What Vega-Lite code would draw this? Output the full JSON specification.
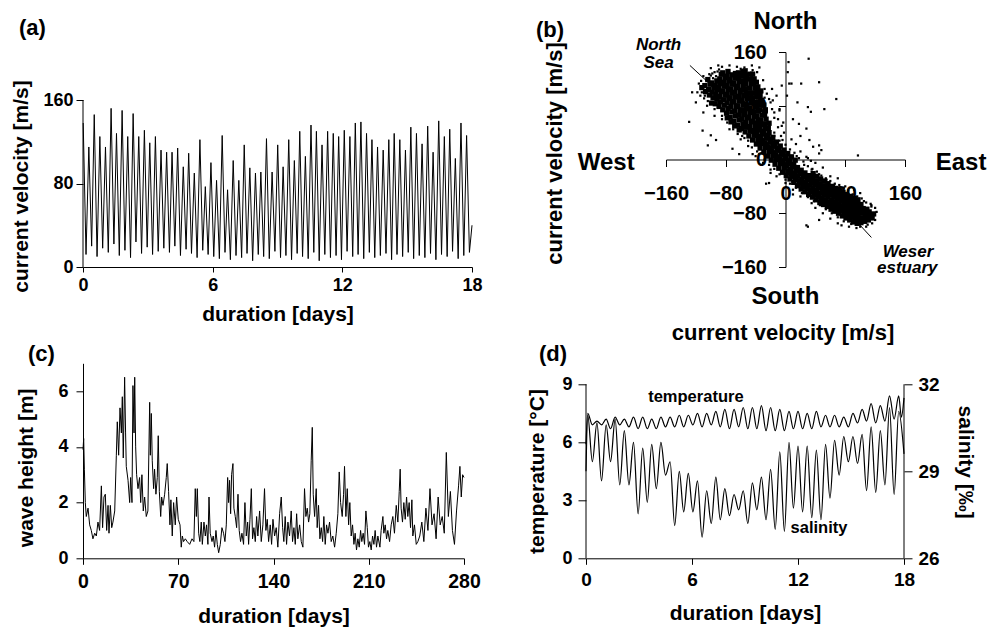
{
"$schema":"https://vega.github.io/schema/vega-lite/v6.json",
"padding":{"left":9,"top":10,"right":5,"bottom":5},
"config":{"view":{"stroke":null},"font":"Liberation Sans",
"axis":{"grid":false,"labelFont":"Liberation Sans","labelFontWeight":"bold","labelColor":"#000","titleFont":"Liberation Sans","titleFontWeight":"bold","titleColor":"#000","domainColor":"#000","tickColor":"#000","labelFlush":false,"labelOverlap":false,"titleAlign":"center","titleBaseline":"middle"},
"title":{"font":"Liberation Sans","fontWeight":"bold","fontSize":22,"color":"#000","anchor":"start","frame":"group","baseline":"alphabetic"},
"text":{"font":"Liberation Sans","fontWeight":"bold","color":"#000"}},
"spacing":311.3,"bounds":"flush",
"vconcat":[
{"hconcat":[
{"width":389,"height":215,"title":{"text":"(a)","dx":-64,"dy":3,"offset":15},
"layer":[
{"data":{"values":[{"t":0.01,"v":138},{"t":0.14,"v":12},{"t":0.27,"v":115},{"t":0.4,"v":20},{"t":0.52,"v":146},{"t":0.65,"v":10},{"t":0.78,"v":125},{"t":0.91,"v":18},{"t":1.04,"v":115},{"t":1.17,"v":14},{"t":1.3,"v":152},{"t":1.43,"v":22},{"t":1.55,"v":128},{"t":1.68,"v":11},{"t":1.81,"v":150},{"t":1.94,"v":16},{"t":2.07,"v":125},{"t":2.2,"v":9},{"t":2.32,"v":147},{"t":2.45,"v":24},{"t":2.58,"v":125},{"t":2.71,"v":13},{"t":2.84,"v":131},{"t":2.97,"v":19},{"t":3.09,"v":119},{"t":3.22,"v":12},{"t":3.35,"v":125},{"t":3.48,"v":15},{"t":3.61,"v":112},{"t":3.74,"v":18},{"t":3.87,"v":110},{"t":4.0,"v":14},{"t":4.12,"v":110},{"t":4.25,"v":20},{"t":4.38,"v":114},{"t":4.51,"v":11},{"t":4.64,"v":96},{"t":4.77,"v":17},{"t":4.89,"v":109},{"t":5.02,"v":13},{"t":5.15,"v":90},{"t":5.28,"v":9},{"t":5.41,"v":122},{"t":5.54,"v":16},{"t":5.66,"v":77},{"t":5.79,"v":12},{"t":5.92,"v":100},{"t":6.05,"v":10},{"t":6.18,"v":83},{"t":6.31,"v":8},{"t":6.44,"v":126},{"t":6.57,"v":14},{"t":6.69,"v":74},{"t":6.82,"v":7},{"t":6.95,"v":102},{"t":7.08,"v":11},{"t":7.21,"v":83},{"t":7.34,"v":9},{"t":7.46,"v":117},{"t":7.59,"v":13},{"t":7.72,"v":95},{"t":7.85,"v":6},{"t":7.98,"v":90},{"t":8.11,"v":12},{"t":8.23,"v":91},{"t":8.36,"v":10},{"t":8.49,"v":123},{"t":8.62,"v":8},{"t":8.75,"v":91},{"t":8.88,"v":15},{"t":9.01,"v":117},{"t":9.14,"v":9},{"t":9.26,"v":96},{"t":9.39,"v":11},{"t":9.52,"v":122},{"t":9.65,"v":7},{"t":9.78,"v":102},{"t":9.91,"v":13},{"t":10.03,"v":130},{"t":10.16,"v":10},{"t":10.29,"v":106},{"t":10.42,"v":8},{"t":10.55,"v":136},{"t":10.68,"v":14},{"t":10.8,"v":130},{"t":10.93,"v":6},{"t":11.06,"v":117},{"t":11.19,"v":12},{"t":11.32,"v":130},{"t":11.45,"v":9},{"t":11.58,"v":128},{"t":11.71,"v":11},{"t":11.83,"v":125},{"t":11.96,"v":7},{"t":12.09,"v":131},{"t":12.22,"v":15},{"t":12.35,"v":125},{"t":12.48,"v":10},{"t":12.6,"v":138},{"t":12.73,"v":12},{"t":12.86,"v":139},{"t":12.99,"v":8},{"t":13.12,"v":128},{"t":13.25,"v":14},{"t":13.37,"v":122},{"t":13.5,"v":9},{"t":13.63,"v":115},{"t":13.76,"v":11},{"t":13.89,"v":112},{"t":14.02,"v":13},{"t":14.15,"v":122},{"t":14.28,"v":7},{"t":14.4,"v":128},{"t":14.53,"v":12},{"t":14.66,"v":122},{"t":14.79,"v":10},{"t":14.92,"v":112},{"t":15.05,"v":14},{"t":15.17,"v":134},{"t":15.3,"v":8},{"t":15.43,"v":128},{"t":15.56,"v":11},{"t":15.69,"v":118},{"t":15.82,"v":9},{"t":15.95,"v":135},{"t":16.08,"v":13},{"t":16.2,"v":110},{"t":16.33,"v":7},{"t":16.46,"v":140},{"t":16.59,"v":12},{"t":16.72,"v":125},{"t":16.85,"v":10},{"t":16.97,"v":132},{"t":17.1,"v":15},{"t":17.23,"v":104},{"t":17.36,"v":8},{"t":17.49,"v":138},{"t":17.62,"v":11},{"t":17.75,"v":126},{"t":17.88,"v":14},{"t":18.0,"v":40}]},
"mark":{"type":"line","color":"#000","strokeWidth":1},
"encoding":{
"x":{"field":"t","type":"quantitative","scale":{"domain":[0,18],"nice":false},"axis":{"values":[0,6,12,18],"tickSize":5,"labelPadding":4,"labelFontSize":18,"title":"duration [days]","titleFontSize":21,"titleX":194.5,"titleY":47}},
"y":{"field":"v","type":"quantitative","scale":{"domain":[0,206],"nice":false},"axis":{"values":[0,80,160],"domain":false,"tickSize":7,"labelPadding":3,"labelFontSize":18,"title":"current velocity [m/s]","titleFontSize":21,"titleX":-62,"titleY":134}}}},
{"data":{"values":[{}]},"mark":{"type":"rule","color":"#000","strokeWidth":1},
"encoding":{"x":{"datum":0,"type":"quantitative","scale":{"domain":[0,18],"nice":false}},"y":{"datum":0,"type":"quantitative","scale":{"domain":[0,206],"nice":false}},"y2":{"datum":160}}}
]},
{"width":239,"height":215,"title":{"text":"(b)","dx":-130,"dy":47,"offset":15},
"layer":[
{"data":{"values":[
{"e":-112,"n":107},{"e":-107,"n":101},{"e":-108,"n":110},{"e":-102,"n":96},{"e":-103,"n":104},{"e":-101,"n":112},{"e":-104,"n":119},{"e":-99,"n":84},{"e":-97,"n":92},{"e":-98,"n":100},{"e":-96,"n":107},{"e":-99,"n":114},{"e":-94,"n":83},{"e":-92,"n":90},{"e":-93,"n":97},{"e":-91,"n":104},{"e":-94,"n":110},{"e":-92,"n":117},{"e":-89,"n":79},{"e":-87,"n":86},{"e":-88,"n":94},{"e":-86,"n":101},{"e":-89,"n":107},{"e":-87,"n":113},{"e":-88,"n":120},{"e":-86,"n":127},{"e":-84,"n":74},{"e":-82,"n":81},{"e":-83,"n":89},{"e":-81,"n":96},{"e":-84,"n":102},{"e":-82,"n":109},{"e":-83,"n":115},{"e":-81,"n":122},{"e":-84,"n":129},{"e":-79,"n":69},{"e":-77,"n":76},{"e":-78,"n":84},{"e":-76,"n":91},{"e":-79,"n":97},{"e":-77,"n":104},{"e":-78,"n":110},{"e":-76,"n":117},{"e":-79,"n":124},{"e":-77,"n":131},{"e":-78,"n":62},{"e":-74,"n":63},{"e":-72,"n":71},{"e":-73,"n":79},{"e":-71,"n":86},{"e":-74,"n":92},{"e":-72,"n":99},{"e":-73,"n":105},{"e":-71,"n":112},{"e":-74,"n":119},{"e":-72,"n":126},{"e":-73,"n":56},{"e":-69,"n":57},{"e":-67,"n":65},{"e":-68,"n":72},{"e":-66,"n":79},{"e":-69,"n":86},{"e":-67,"n":93},{"e":-68,"n":100},{"e":-66,"n":107},{"e":-69,"n":114},{"e":-67,"n":121},{"e":-68,"n":50},{"e":-67,"n":128},{"e":-64,"n":51},{"e":-62,"n":59},{"e":-63,"n":66},{"e":-61,"n":73},{"e":-64,"n":80},{"e":-62,"n":87},{"e":-63,"n":94},{"e":-61,"n":101},{"e":-64,"n":109},{"e":-62,"n":116},{"e":-63,"n":122},{"e":-63,"n":129},{"e":-62,"n":44},{"e":-59,"n":46},{"e":-57,"n":53},{"e":-58,"n":60},{"e":-56,"n":67},{"e":-59,"n":74},{"e":-57,"n":81},{"e":-58,"n":88},{"e":-56,"n":95},{"e":-59,"n":103},{"e":-57,"n":110},{"e":-58,"n":117},{"e":-58,"n":124},{"e":-57,"n":131},{"e":-54,"n":41},{"e":-52,"n":48},{"e":-53,"n":55},{"e":-51,"n":62},{"e":-54,"n":69},{"e":-52,"n":76},{"e":-53,"n":83},{"e":-51,"n":91},{"e":-52,"n":98},{"e":-54,"n":105},{"e":-53,"n":112},{"e":-53,"n":119},{"e":-52,"n":126},{"e":-54,"n":132},{"e":-49,"n":35},{"e":-47,"n":42},{"e":-48,"n":49},{"e":-46,"n":56},{"e":-49,"n":63},{"e":-47,"n":70},{"e":-48,"n":77},{"e":-46,"n":85},{"e":-47,"n":92},{"e":-49,"n":99},{"e":-48,"n":106},{"e":-46,"n":113},{"e":-48,"n":120},{"e":-47,"n":127},{"e":-44,"n":29},{"e":-42,"n":36},{"e":-43,"n":43},{"e":-41,"n":50},{"e":-44,"n":57},{"e":-42,"n":64},{"e":-43,"n":71},{"e":-41,"n":78},{"e":-42,"n":85},{"e":-44,"n":92},{"e":-43,"n":99},{"e":-41,"n":106},{"e":-43,"n":113},{"e":-42,"n":120},{"e":-44,"n":127},{"e":-39,"n":23},{"e":-37,"n":30},{"e":-38,"n":37},{"e":-36,"n":44},{"e":-39,"n":51},{"e":-37,"n":58},{"e":-38,"n":65},{"e":-36,"n":72},{"e":-39,"n":79},{"e":-37,"n":86},{"e":-38,"n":94},{"e":-38,"n":101},{"e":-37,"n":108},{"e":-39,"n":115},{"e":-34,"n":17},{"e":-32,"n":24},{"e":-33,"n":31},{"e":-31,"n":38},{"e":-34,"n":45},{"e":-32,"n":52},{"e":-33,"n":59},{"e":-31,"n":66},{"e":-34,"n":74},{"e":-33,"n":81},{"e":-32,"n":88},{"e":-34,"n":95},{"e":-33,"n":102},{"e":-29,"n":11},{"e":-27,"n":18},{"e":-28,"n":25},{"e":-26,"n":32},{"e":-29,"n":39},{"e":-27,"n":46},{"e":-28,"n":53},{"e":-26,"n":60},{"e":-28,"n":67},{"e":-27,"n":74},{"e":-29,"n":81},{"e":-24,"n":5},{"e":-22,"n":12},{"e":-23,"n":19},{"e":-21,"n":26},{"e":-24,"n":33},{"e":-22,"n":40},{"e":-23,"n":47},{"e":-22,"n":54},{"e":-19,"n":-1},{"e":-17,"n":6},{"e":-18,"n":13},{"e":-16,"n":20},{"e":-19,"n":27},{"e":-17,"n":33},{"e":-14,"n":-7},{"e":-12,"n":0},{"e":-13,"n":7},{"e":-11,"n":14},{"e":-14,"n":20},{"e":-12,"n":26},{"e":-9,"n":-13},{"e":-7,"n":-6},{"e":-8,"n":1},{"e":-6,"n":8},{"e":-9,"n":14},{"e":-7,"n":20},{"e":-4,"n":-19},{"e":-2,"n":-12},{"e":-3,"n":-5},{"e":-1,"n":2},{"e":-4,"n":8},{"e":-2,"n":14},{"e":1,"n":-24},{"e":3,"n":-17},{"e":2,"n":-10},{"e":4,"n":-3},{"e":1,"n":3},{"e":3,"n":9},{"e":6,"n":-29},{"e":8,"n":-22},{"e":7,"n":-15},{"e":9,"n":-8},{"e":6,"n":-2},{"e":8,"n":4},{"e":11,"n":-34},{"e":13,"n":-27},{"e":12,"n":-20},{"e":14,"n":-13},{"e":11,"n":-7},{"e":13,"n":-1},{"e":16,"n":-39},{"e":18,"n":-32},{"e":17,"n":-25},{"e":19,"n":-18},{"e":16,"n":-12},{"e":21,"n":-44},{"e":23,"n":-37},{"e":22,"n":-30},{"e":24,"n":-23},{"e":21,"n":-16},{"e":26,"n":-48},{"e":28,"n":-41},{"e":27,"n":-34},{"e":29,"n":-27},{"e":26,"n":-20},{"e":31,"n":-52},{"e":33,"n":-45},{"e":32,"n":-38},{"e":34,"n":-31},{"e":31,"n":-24},{"e":36,"n":-56},{"e":38,"n":-49},{"e":37,"n":-42},{"e":39,"n":-35},{"e":36,"n":-28},{"e":37,"n":-21},{"e":41,"n":-60},{"e":43,"n":-53},{"e":42,"n":-46},{"e":44,"n":-39},{"e":41,"n":-32},{"e":42,"n":-25},{"e":46,"n":-64},{"e":48,"n":-57},{"e":47,"n":-50},{"e":49,"n":-43},{"e":46,"n":-36},{"e":47,"n":-29},{"e":51,"n":-67},{"e":53,"n":-60},{"e":52,"n":-53},{"e":54,"n":-46},{"e":51,"n":-39},{"e":52,"n":-32},{"e":56,"n":-70},{"e":58,"n":-63},{"e":57,"n":-56},{"e":59,"n":-49},{"e":56,"n":-42},{"e":57,"n":-36},{"e":61,"n":-74},{"e":63,"n":-67},{"e":62,"n":-60},{"e":64,"n":-53},{"e":61,"n":-46},{"e":62,"n":-40},{"e":66,"n":-77},{"e":68,"n":-70},{"e":67,"n":-63},{"e":69,"n":-56},{"e":66,"n":-49},{"e":67,"n":-43},{"e":71,"n":-80},{"e":73,"n":-73},{"e":72,"n":-66},{"e":74,"n":-59},{"e":71,"n":-52},{"e":72,"n":-45},{"e":76,"n":-84},{"e":78,"n":-77},{"e":77,"n":-70},{"e":79,"n":-63},{"e":76,"n":-56},{"e":77,"n":-49},{"e":81,"n":-87},{"e":83,"n":-80},{"e":82,"n":-73},{"e":84,"n":-66},{"e":81,"n":-59},{"e":82,"n":-52},{"e":86,"n":-90},{"e":88,"n":-83},{"e":87,"n":-76},{"e":89,"n":-69},{"e":86,"n":-62},{"e":87,"n":-55},{"e":91,"n":-93},{"e":93,"n":-86},{"e":92,"n":-79},{"e":94,"n":-72},{"e":91,"n":-65},{"e":92,"n":-58},{"e":96,"n":-95},{"e":98,"n":-88},{"e":97,"n":-81},{"e":99,"n":-74},{"e":96,"n":-67},{"e":97,"n":-60},{"e":101,"n":-94},{"e":103,"n":-87},{"e":102,"n":-80},{"e":104,"n":-73},{"e":101,"n":-67},{"e":106,"n":-92},{"e":108,"n":-86},{"e":107,"n":-80},{"e":109,"n":-74},{"e":111,"n":-90},{"e":113,"n":-84},{"e":112,"n":-78},{"e":116,"n":-87},{"e":118,"n":-81},
{"e":4,"n":-20},{"e":5,"n":-6},{"e":9,"n":-25},{"e":10,"n":-11},{"e":14,"n":-30},{"e":15,"n":-16},{"e":19,"n":-35},{"e":20,"n":-21},{"e":24,"n":-40},{"e":25,"n":-26},{"e":29,"n":-44},{"e":30,"n":-30},{"e":34,"n":-48},{"e":35,"n":-34},{"e":39,"n":-52},{"e":40,"n":-38},{"e":44,"n":-56},{"e":45,"n":-42},{"e":49,"n":-60},{"e":50,"n":-46},{"e":54,"n":-63},{"e":55,"n":-49},{"e":59,"n":-66},{"e":60,"n":-52},{"e":64,"n":-70},{"e":65,"n":-56},{"e":69,"n":-73},{"e":70,"n":-59},{"e":74,"n":-76},{"e":75,"n":-62},{"e":79,"n":-80},{"e":80,"n":-66},{"e":84,"n":-83},{"e":85,"n":-69},{"e":89,"n":-86},{"e":90,"n":-72},{"e":94,"n":-89},{"e":95,"n":-75},{"e":99,"n":-91},{"e":100,"n":-77},{"e":104,"n":-90},{"e":105,"n":-76},{"e":109,"n":-88},{"e":110,"n":-81},
{"e":-26,"n":22},{"e":-25,"n":36},{"e":-21,"n":16},{"e":-20,"n":30},{"e":-16,"n":10},{"e":-15,"n":24},{"e":-11,"n":4},{"e":-10,"n":17},{"e":-6,"n":-2},{"e":-5,"n":11},{"e":-1,"n":-8},{"e":0,"n":5},{"e":-31,"n":28},{"e":-30,"n":42},{"e":-36,"n":34},{"e":-35,"n":48},{"e":-41,"n":40},{"e":-40,"n":54}
]},
"mark":{"type":"square","size":28,"color":"#000","opacity":1},
"encoding":{
"x":{"field":"e","type":"quantitative","scale":{"domain":[-160,160],"nice":false},"axis":{"values":[-160,-80,0,80,160],"offset":-107.5,"tickSize":7,"labelPadding":17,"labelFontSize":20,"title":"current velocity [m/s]","titleFontSize":22,"titleX":116.5,"titleY":172.8}},
"y":{"field":"n","type":"quantitative","scale":{"domain":[-160,160],"nice":false},"axis":{"values":[-160,-80,0,80,160],"offset":-119.5,"tickSize":7,"labelPadding":12,"labelFontSize":20,"title":"current velocity [m/s]","titleFontSize":22,"titleX":-231,"titleY":101}}}},
{"data":{"values":[
{"e":-118,"n":100},{"e":-116,"n":113},{"e":-114,"n":95},{"e":-113,"n":117},{"e":-109,"n":91},{"e":-106,"n":118},{"e":-110,"n":124},{"e":-104,"n":87},{"e":-102,"n":127},{"e":-97,"n":121},{"e":-98,"n":128},{"e":-93,"n":124},{"e":-91,"n":131},{"e":-89,"n":134},
{"e":-105,"n":80},{"e":-108,"n":95},{"e":-112,"n":100},{"e":-100,"n":125},{"e":-95,"n":130},{"e":-85,"n":138},{"e":-75,"n":140},{"e":-65,"n":138},{"e":-55,"n":137},{"e":-45,"n":140},{"e":-38,"n":130},{"e":-30,"n":118},{"e":-28,"n":105},{"e":-25,"n":98},{"e":-22,"n":90},{"e":-18,"n":75},{"e":-15,"n":70},{"e":-10,"n":60},{"e":-5,"n":50},{"e":-95,"n":75},{"e":-85,"n":65},{"e":-78,"n":55},{"e":-70,"n":45},{"e":-64,"n":38},{"e":-58,"n":35},
{"e":-15,"n":35},{"e":-8,"n":28},{"e":0,"n":22},{"e":6,"n":15},{"e":12,"n":10},{"e":18,"n":2},{"e":24,"n":-3},{"e":30,"n":-10},{"e":36,"n":-14},{"e":42,"n":-18},{"e":48,"n":-24},{"e":54,"n":-28},{"e":60,"n":-32},{"e":66,"n":-36},{"e":72,"n":-38},{"e":78,"n":-42},{"e":84,"n":-46},{"e":90,"n":-52},{"e":96,"n":-55},{"e":102,"n":-58},{"e":108,"n":-64},{"e":114,"n":-66},{"e":120,"n":-72},{"e":-2,"n":40},{"e":8,"n":30},{"e":20,"n":12},{"e":34,"n":-2},{"e":50,"n":-12},{"e":70,"n":-28},{"e":92,"n":-45},
{"e":-55,"n":32},{"e":-45,"n":18},{"e":-35,"n":8},{"e":-28,"n":0},{"e":-22,"n":-8},{"e":-15,"n":-14},{"e":-8,"n":-22},{"e":0,"n":-30},{"e":6,"n":-36},{"e":14,"n":-42},{"e":22,"n":-50},{"e":30,"n":-56},{"e":38,"n":-62},{"e":46,"n":-68},{"e":54,"n":-74},{"e":62,"n":-80},{"e":70,"n":-86},{"e":78,"n":-92},{"e":88,"n":-96},{"e":100,"n":-100},{"e":108,"n":-100},{"e":116,"n":-95},{"e":-50,"n":28},{"e":-38,"n":12},{"e":-20,"n":-20},{"e":10,"n":-52},{"e":40,"n":-72},{"e":75,"n":-98},
{"e":-25,"n":70},{"e":-20,"n":85},{"e":-15,"n":62},{"e":-12,"n":95},{"e":-8,"n":75},{"e":-5,"n":110},{"e":-18,"n":105},{"e":-28,"n":92},{"e":-10,"n":48},{"e":-3,"n":55},{"e":-22,"n":50},{"e":-30,"n":80},{"e":-15,"n":40},{"e":-6,"n":35},
{"e":-60,"n":30},{"e":-75,"n":45},{"e":-85,"n":60},{"e":-50,"n":20},{"e":-40,"n":5},{"e":-110,"n":70},{"e":-95,"n":65},{"e":-120,"n":85},{"e":-125,"n":100},{"e":-30,"n":-5},{"e":-20,"n":-15},{"e":-12,"n":-25},{"e":0,"n":-35},{"e":10,"n":-45},{"e":20,"n":-55},{"e":35,"n":-65},{"e":50,"n":-80},{"e":60,"n":-88},{"e":70,"n":-95},{"e":85,"n":-100},{"e":95,"n":-102},{"e":110,"n":-97},{"e":120,"n":-90},{"e":122,"n":-78},{"e":115,"n":-70},
{"e":15,"n":5},{"e":25,"n":-8},{"e":35,"n":-15},{"e":45,"n":-22},{"e":55,"n":-30},{"e":65,"n":-38},{"e":75,"n":-45},{"e":85,"n":-52},{"e":95,"n":-58},{"e":105,"n":-62},{"e":115,"n":-68},{"e":30,"n":2},{"e":40,"n":-5},{"e":60,"n":-25},{"e":80,"n":-40},{"e":100,"n":-50},
{"e":4,"n":145},{"e":31,"n":150},{"e":8,"n":113},{"e":21,"n":113},{"e":45,"n":115},{"e":16,"n":85},{"e":30,"n":78},{"e":34,"n":71},{"e":52,"n":75},{"e":18,"n":53},{"e":28,"n":46},{"e":32,"n":29},{"e":45,"n":21},{"e":48,"n":14},{"e":68,"n":90},{"e":30,"n":-100},{"e":45,"n":-90},{"e":97,"n":6},{"e":5,"n":113},{"e":28,"n":-98},{"e":-26,"n":-36},{"e":-22,"n":-35},{"e":-129,"n":56},{"e":-104,"n":21},{"e":-100,"n":36},{"e":-93,"n":29},{"e":-111,"n":43},{"e":-71,"n":16},{"e":-62,"n":8},{"e":-44,"n":8},{"e":37,"n":19},{"e":45,"n":9},{"e":14,"n":23},{"e":28,"n":4},{"e":-17,"n":88},{"e":-8,"n":73},{"e":-4,"n":29},{"e":-44,"n":133},{"e":-35,"n":137},{"e":-60,"n":135},{"e":-90,"n":140},{"e":-100,"n":136},{"e":3,"n":130},{"e":2,"n":95},{"e":10,"n":60},{"e":20,"n":35}
]},
"mark":{"type":"square","size":5,"color":"#000","opacity":1},
"encoding":{"x":{"field":"e","type":"quantitative","scale":{"domain":[-160,160],"nice":false}},"y":{"field":"n","type":"quantitative","scale":{"domain":[-160,160],"nice":false}}}},
{"data":{"values":[{"x1":-128,"y1":140,"x2":-93,"y2":104},{"x1":90,"y1":-86,"x2":115,"y2":-116}]},
"mark":{"type":"rule","color":"#000","strokeWidth":1},
"encoding":{"x":{"field":"x1","type":"quantitative","scale":{"domain":[-160,160],"nice":false}},"y":{"field":"y1","type":"quantitative","scale":{"domain":[-160,160],"nice":false}},"x2":{"field":"x2"},"y2":{"field":"y2"}}},
{"data":{"values":[{"label":"North","x":0,"y":204},{"label":"South","x":0,"y":-204},{"label":"West","x":-240,"y":-5},{"label":"East","x":235,"y":-5}]},
"mark":{"type":"text","fontSize":24,"baseline":"middle","align":"center"},
"encoding":{"x":{"field":"x","type":"quantitative","scale":{"domain":[-160,160],"nice":false}},"y":{"field":"y","type":"quantitative","scale":{"domain":[-160,160],"nice":false}},"text":{"field":"label"}}},
{"data":{"values":[{"label":"North","x":-170,"y":170},{"label":"Sea","x":-170,"y":143},{"label":"Weser","x":164,"y":-138},{"label":"estuary","x":163,"y":-162}]},
"mark":{"type":"text","fontSize":17,"fontStyle":"italic","baseline":"middle","align":"center"},
"encoding":{"x":{"field":"x","type":"quantitative","scale":{"domain":[-160,160],"nice":false}},"y":{"field":"y","type":"quantitative","scale":{"domain":[-160,160],"nice":false}},"text":{"field":"label"}}}
]}
],"spacing":194,"bounds":"flush"},
{"hconcat":[
{"width":381,"height":195,"title":{"text":"(c)","dx":-55,"dy":5,"offset":2},
"data":{"values":[{"d":0,"h":3.9},{"d":0.5,"h":4.3},{"d":1.0,"h":3.2},{"d":1.7,"h":2.0},{"d":2.4,"h":1.5},{"d":3.7,"h":1.8},{"d":4.9,"h":1.2},{"d":6.1,"h":1.0},{"d":7.3,"h":0.7},{"d":8.6,"h":0.9},{"d":9.8,"h":0.8},{"d":11.0,"h":1.3},{"d":12.2,"h":1.0},{"d":13.5,"h":2.6},{"d":14.4,"h":1.1},{"d":15.4,"h":2.2},{"d":16.4,"h":2.3},{"d":17.4,"h":1.0},{"d":18.4,"h":1.9},{"d":19.1,"h":0.9},{"d":20.1,"h":1.9},{"d":21.1,"h":1.1},{"d":22.0,"h":1.3},{"d":23.3,"h":1.7},{"d":24.5,"h":3.7},{"d":25.2,"h":4.9},{"d":26.2,"h":3.7},{"d":27.2,"h":5.4},{"d":28.2,"h":4.5},{"d":28.9,"h":5.8},{"d":29.6,"h":3.6},{"d":30.6,"h":6.5},{"d":31.3,"h":4.5},{"d":31.8,"h":3.3},{"d":33.1,"h":2.8},{"d":34.3,"h":2.0},{"d":35.0,"h":2.9},{"d":36.0,"h":2.0},{"d":36.7,"h":6.2},{"d":37.5,"h":4.5},{"d":38.0,"h":6.5},{"d":38.7,"h":4.0},{"d":39.4,"h":3.0},{"d":40.4,"h":2.5},{"d":41.6,"h":2.9},{"d":42.4,"h":2.0},{"d":43.3,"h":3.0},{"d":44.3,"h":1.7},{"d":45.3,"h":2.2},{"d":46.5,"h":1.5},{"d":47.7,"h":1.7},{"d":49.0,"h":5.6},{"d":49.5,"h":3.7},{"d":50.2,"h":5.2},{"d":50.9,"h":3.5},{"d":51.9,"h":2.5},{"d":52.6,"h":3.2},{"d":53.6,"h":2.3},{"d":54.6,"h":2.9},{"d":55.3,"h":4.4},{"d":56.1,"h":2.4},{"d":57.1,"h":1.5},{"d":57.8,"h":2.2},{"d":58.8,"h":1.9},{"d":60.0,"h":2.3},{"d":61.2,"h":2.9},{"d":61.9,"h":3.4},{"d":62.9,"h":2.4},{"d":63.9,"h":1.2},{"d":64.6,"h":2.1},{"d":65.6,"h":0.8},{"d":66.6,"h":2.0},{"d":67.8,"h":1.2},{"d":68.8,"h":2.2},{"d":70.0,"h":1.4},{"d":71.3,"h":1.2},{"d":72.2,"h":0.4},{"d":73.0,"h":0.8},{"d":73.9,"h":0.6},{"d":75.2,"h":0.7},{"d":76.6,"h":0.6},{"d":78.4,"h":0.5},{"d":80.1,"h":0.7},{"d":81.5,"h":0.6},{"d":82.5,"h":2.5},{"d":83.3,"h":1.5},{"d":84.0,"h":2.5},{"d":85.0,"h":0.9},{"d":85.9,"h":0.6},{"d":86.9,"h":1.3},{"d":87.7,"h":0.5},{"d":88.9,"h":1.3},{"d":89.9,"h":0.8},{"d":90.8,"h":1.2},{"d":91.8,"h":0.5},{"d":92.6,"h":2.2},{"d":93.5,"h":0.9},{"d":94.8,"h":0.6},{"d":95.7,"h":0.8},{"d":96.7,"h":0.4},{"d":97.7,"h":1.0},{"d":98.7,"h":0.5},{"d":99.7,"h":0.2},{"d":100.9,"h":0.5},{"d":102.1,"h":1.1},{"d":103.3,"h":0.9},{"d":104.3,"h":0.6},{"d":105.3,"h":1.2},{"d":106.3,"h":2.9},{"d":107.0,"h":2.0},{"d":107.7,"h":2.8},{"d":108.5,"h":1.6},{"d":109.2,"h":3.0},{"d":110.2,"h":3.4},{"d":110.9,"h":1.8},{"d":111.9,"h":1.5},{"d":112.9,"h":1.1},{"d":113.9,"h":2.3},{"d":114.8,"h":1.0},{"d":115.8,"h":0.6},{"d":116.8,"h":0.9},{"d":118.0,"h":0.5},{"d":119.0,"h":2.0},{"d":120.0,"h":0.8},{"d":121.0,"h":1.3},{"d":121.7,"h":0.5},{"d":122.7,"h":1.4},{"d":123.7,"h":2.5},{"d":124.6,"h":0.7},{"d":125.6,"h":1.1},{"d":126.6,"h":0.6},{"d":127.6,"h":1.5},{"d":128.5,"h":0.8},{"d":129.8,"h":1.7},{"d":131.0,"h":0.6},{"d":132.2,"h":1.2},{"d":133.4,"h":2.5},{"d":134.4,"h":1.0},{"d":135.4,"h":1.4},{"d":136.4,"h":0.6},{"d":137.6,"h":1.2},{"d":138.6,"h":0.5},{"d":139.6,"h":1.4},{"d":140.8,"h":0.8},{"d":142.0,"h":1.1},{"d":143.2,"h":0.4},{"d":144.5,"h":1.6},{"d":145.7,"h":2.2},{"d":146.7,"h":1.1},{"d":147.6,"h":0.6},{"d":148.6,"h":1.5},{"d":149.6,"h":0.5},{"d":150.6,"h":1.3},{"d":151.8,"h":0.8},{"d":153.0,"h":1.7},{"d":154.0,"h":0.6},{"d":155.0,"h":1.1},{"d":156.0,"h":0.5},{"d":157.0,"h":1.6},{"d":157.9,"h":0.7},{"d":159.2,"h":1.2},{"d":160.4,"h":0.6},{"d":161.6,"h":0.4},{"d":162.8,"h":2.5},{"d":163.8,"h":1.5},{"d":164.8,"h":1.8},{"d":165.8,"h":1.3},{"d":166.7,"h":1.6},{"d":167.7,"h":3.5},{"d":168.5,"h":4.7},{"d":169.2,"h":2.3},{"d":170.2,"h":1.5},{"d":171.4,"h":2.5},{"d":172.1,"h":1.1},{"d":173.1,"h":1.9},{"d":174.1,"h":0.7},{"d":175.1,"h":1.1},{"d":176.1,"h":0.6},{"d":177.0,"h":1.5},{"d":178.0,"h":0.5},{"d":179.0,"h":1.2},{"d":180.0,"h":0.9},{"d":181.2,"h":1.3},{"d":182.4,"h":0.6},{"d":183.6,"h":0.8},{"d":184.9,"h":0.4},{"d":186.1,"h":0.9},{"d":187.3,"h":1.6},{"d":188.3,"h":3.1},{"d":189.3,"h":2.0},{"d":190.5,"h":1.5},{"d":191.5,"h":2.3},{"d":192.2,"h":3.3},{"d":193.2,"h":1.5},{"d":194.2,"h":2.5},{"d":195.2,"h":1.2},{"d":196.1,"h":2.0},{"d":197.1,"h":0.8},{"d":198.1,"h":1.2},{"d":199.1,"h":0.5},{"d":200.0,"h":0.9},{"d":201.0,"h":0.3},{"d":202.0,"h":0.7},{"d":203.0,"h":0.4},{"d":204.0,"h":1.0},{"d":204.9,"h":0.6},{"d":205.9,"h":0.9},{"d":206.9,"h":0.5},{"d":207.9,"h":1.7},{"d":208.9,"h":1.1},{"d":209.8,"h":0.4},{"d":210.8,"h":0.6},{"d":211.8,"h":0.3},{"d":212.8,"h":0.8},{"d":213.8,"h":0.5},{"d":214.7,"h":1.0},{"d":215.7,"h":0.4},{"d":216.7,"h":0.8},{"d":218.2,"h":0.4},{"d":219.1,"h":1.0},{"d":220.4,"h":1.5},{"d":221.1,"h":0.9},{"d":222.1,"h":1.2},{"d":223.1,"h":0.7},{"d":224.0,"h":1.0},{"d":225.3,"h":0.6},{"d":226.5,"h":1.2},{"d":227.7,"h":1.5},{"d":228.9,"h":0.9},{"d":230.2,"h":1.9},{"d":231.4,"h":1.3},{"d":232.4,"h":2.4},{"d":233.1,"h":3.2},{"d":233.8,"h":1.8},{"d":234.8,"h":1.3},{"d":235.8,"h":2.0},{"d":236.8,"h":1.4},{"d":237.8,"h":2.2},{"d":238.7,"h":1.5},{"d":239.7,"h":2.0},{"d":240.7,"h":1.1},{"d":241.7,"h":2.1},{"d":242.4,"h":0.8},{"d":243.6,"h":1.2},{"d":244.9,"h":0.5},{"d":246.1,"h":0.6},{"d":247.5,"h":0.8},{"d":249,"h":1.3},{"d":250.5,"h":0.6},{"d":252,"h":1.8},{"d":253.5,"h":1.0},{"d":255,"h":2.5},{"d":256.5,"h":1.2},{"d":258,"h":1.6},{"d":259.5,"h":0.7},{"d":261,"h":2.2},{"d":262.5,"h":1.2},{"d":264,"h":1.5},{"d":265.5,"h":0.9},{"d":267,"h":3.8},{"d":268.5,"h":1.5},{"d":270,"h":2.4},{"d":271.5,"h":1.0},{"d":273,"h":0.5},{"d":274.5,"h":1.7},{"d":276,"h":2.6},{"d":277,"h":3.3},{"d":278,"h":2.2},{"d":279,"h":3.0},{"d":280,"h":2.9}]},
"mark":{"type":"line","color":"#000","strokeWidth":1},
"encoding":{
"x":{"field":"d","type":"quantitative","scale":{"domain":[0,280],"nice":false},"axis":{"values":[0,70,140,210,280],"tickSize":6,"labelPadding":8,"labelFontSize":19.5,"title":"duration [days]","titleFontSize":21,"titleX":190.5,"titleY":58.4}},
"y":{"field":"h","type":"quantitative","scale":{"domain":[0,7],"nice":false},"axis":{"values":[0,2,4,6],"tickSize":7,"labelPadding":8,"labelFontSize":18,"title":"wave height [m]","titleFontSize":21,"titleX":-57,"titleY":104}}}},
{"width":318,"height":195,"title":{"text":"(d)","dx":-47,"dy":5,"offset":2},
"resolve":{"scale":{"y":"independent"}},
"layer":[
{"layer":[
{"data":{"values":[{"t":0,"temp":5.9},{"t":0.1,"temp":7.5},{"t":0.36,"temp":6.9},{"t":0.62,"temp":7.1},{"t":0.88,"temp":6.9},{"t":1.14,"temp":7.2},{"t":1.39,"temp":6.7},{"t":1.65,"temp":7.3},{"t":1.91,"temp":6.9},{"t":2.17,"temp":7.2},{"t":2.43,"temp":6.8},{"t":2.69,"temp":7.3},{"t":2.95,"temp":6.7},{"t":3.21,"temp":7.3},{"t":3.47,"temp":6.7},{"t":3.72,"temp":7.2},{"t":3.98,"temp":6.7},{"t":4.24,"temp":7.3},{"t":4.5,"temp":6.8},{"t":4.76,"temp":7.3},{"t":5.02,"temp":6.8},{"t":5.28,"temp":7.4},{"t":5.53,"temp":6.8},{"t":5.79,"temp":7.4},{"t":6.05,"temp":6.9},{"t":6.31,"temp":7.5},{"t":6.57,"temp":6.8},{"t":6.83,"temp":7.5},{"t":7.09,"temp":6.9},{"t":7.35,"temp":7.6},{"t":7.6,"temp":6.8},{"t":7.86,"temp":7.7},{"t":8.12,"temp":6.7},{"t":8.38,"temp":7.7},{"t":8.64,"temp":6.8},{"t":8.9,"temp":7.8},{"t":9.16,"temp":6.7},{"t":9.42,"temp":7.8},{"t":9.67,"temp":6.7},{"t":9.93,"temp":7.9},{"t":10.19,"temp":6.6},{"t":10.45,"temp":7.8},{"t":10.71,"temp":6.6},{"t":10.97,"temp":7.7},{"t":11.23,"temp":6.6},{"t":11.49,"temp":7.6},{"t":11.74,"temp":6.7},{"t":12.0,"temp":7.6},{"t":12.26,"temp":6.7},{"t":12.52,"temp":7.5},{"t":12.78,"temp":6.7},{"t":13.04,"temp":7.6},{"t":13.3,"temp":6.8},{"t":13.56,"temp":7.4},{"t":13.81,"temp":6.8},{"t":14.07,"temp":7.4},{"t":14.33,"temp":6.8},{"t":14.59,"temp":7.3},{"t":14.85,"temp":6.8},{"t":15.11,"temp":7.5},{"t":15.37,"temp":7.0},{"t":15.63,"temp":7.7},{"t":15.88,"temp":7.1},{"t":16.14,"temp":8.0},{"t":16.4,"temp":7.0},{"t":16.66,"temp":7.9},{"t":16.92,"temp":7.1},{"t":17.18,"temp":8.4},{"t":17.44,"temp":7.2},{"t":17.7,"temp":8.4},{"t":17.85,"temp":7.3},{"t":18.0,"temp":8.3}]},
"mark":{"type":"line","color":"#000","strokeWidth":1.2,"interpolate":"monotone"},
"encoding":{
"x":{"field":"t","type":"quantitative","scale":{"domain":[0,18],"nice":false},"axis":{"values":[0,6,12,18],"tickSize":6,"labelPadding":6,"labelFontSize":19,"title":"duration [days]","titleFontSize":21,"titleX":159,"titleY":54.7}},
"y":{"field":"temp","type":"quantitative","scale":{"domain":[0,10.086],"nice":false},"axis":{"values":[0,3,6,9],"domain":false,"tickSize":8,"labelPadding":6,"labelFontSize":18,"title":"temperature [°C]","titleFontSize":21,"titleX":-48.3,"titleY":107.7}}}},
{"data":{"values":[{}]},"mark":{"type":"rule","color":"#000","strokeWidth":1},
"encoding":{"x":{"datum":0,"type":"quantitative"},"y":{"datum":0,"type":"quantitative"},"y2":{"datum":9}}},
{"data":{"values":[{}]},"mark":{"type":"rule","color":"#000","strokeWidth":1},
"encoding":{"x":{"datum":18,"type":"quantitative"},"y":{"datum":0,"type":"quantitative"},"y2":{"datum":9}}},
{"data":{"values":[{"label":"temperature","t":6.22,"temp":8.32},{"label":"salinity","t":13.19,"temp":1.59}]},
"mark":{"type":"text","fontSize":16.5,"baseline":"middle","align":"center"},
"encoding":{"x":{"field":"t","type":"quantitative"},"y":{"field":"temp","type":"quantitative"},"text":{"field":"label"}}}
]},
{"data":{"values":[{"t":0,"sal":29.0},{"t":0.1,"sal":30.93},{"t":0.36,"sal":29.33},{"t":0.62,"sal":30.67},{"t":0.88,"sal":28.67},{"t":1.14,"sal":30.6},{"t":1.39,"sal":29.33},{"t":1.65,"sal":30.8},{"t":1.91,"sal":28.53},{"t":2.17,"sal":30.4},{"t":2.43,"sal":28.53},{"t":2.69,"sal":30.0},{"t":2.95,"sal":27.53},{"t":3.21,"sal":29.8},{"t":3.47,"sal":27.93},{"t":3.72,"sal":29.93},{"t":3.98,"sal":28.4},{"t":4.24,"sal":30.0},{"t":4.5,"sal":28.87},{"t":4.76,"sal":29.33},{"t":5.02,"sal":27.13},{"t":5.28,"sal":29.0},{"t":5.53,"sal":27.6},{"t":5.79,"sal":28.93},{"t":6.05,"sal":27.6},{"t":6.31,"sal":28.67},{"t":6.57,"sal":26.73},{"t":6.83,"sal":28.33},{"t":7.09,"sal":27.2},{"t":7.35,"sal":28.8},{"t":7.6,"sal":27.33},{"t":7.86,"sal":28.4},{"t":8.12,"sal":27.47},{"t":8.38,"sal":28.2},{"t":8.64,"sal":27.67},{"t":8.9,"sal":28.33},{"t":9.16,"sal":27.2},{"t":9.42,"sal":28.6},{"t":9.67,"sal":27.67},{"t":9.93,"sal":28.8},{"t":10.19,"sal":27.33},{"t":10.45,"sal":29.07},{"t":10.71,"sal":27.0},{"t":10.97,"sal":29.67},{"t":11.23,"sal":26.93},{"t":11.49,"sal":30.0},{"t":11.74,"sal":27.73},{"t":12.0,"sal":29.87},{"t":12.26,"sal":27.6},{"t":12.52,"sal":29.87},{"t":12.78,"sal":27.4},{"t":13.04,"sal":29.73},{"t":13.3,"sal":27.33},{"t":13.56,"sal":29.93},{"t":13.81,"sal":28.07},{"t":14.07,"sal":30.07},{"t":14.33,"sal":28.87},{"t":14.59,"sal":30.2},{"t":14.85,"sal":29.33},{"t":15.11,"sal":30.2},{"t":15.37,"sal":29.27},{"t":15.63,"sal":30.27},{"t":15.88,"sal":28.33},{"t":16.14,"sal":30.53},{"t":16.4,"sal":28.27},{"t":16.66,"sal":30.4},{"t":16.92,"sal":28.53},{"t":17.18,"sal":31.2},{"t":17.44,"sal":28.2},{"t":17.7,"sal":31.07},{"t":18.0,"sal":29.6}]},
"mark":{"type":"line","color":"#000","strokeWidth":1.2,"interpolate":"monotone"},
"encoding":{
"x":{"field":"t","type":"quantitative","scale":{"domain":[0,18],"nice":false}},
"y":{"field":"sal","type":"quantitative","scale":{"domain":[26,32.724],"nice":false},"axis":{"orient":"right","values":[26,29,32],"domain":false,"tickSize":8,"labelPadding":6,"labelFontSize":19,"title":"salinity [‰]","titleFontSize":21,"titleAngle":90,"titleX":60.7,"titleY":98.4}}}}
]}
],"spacing":122,"bounds":"flush"}
]
}
